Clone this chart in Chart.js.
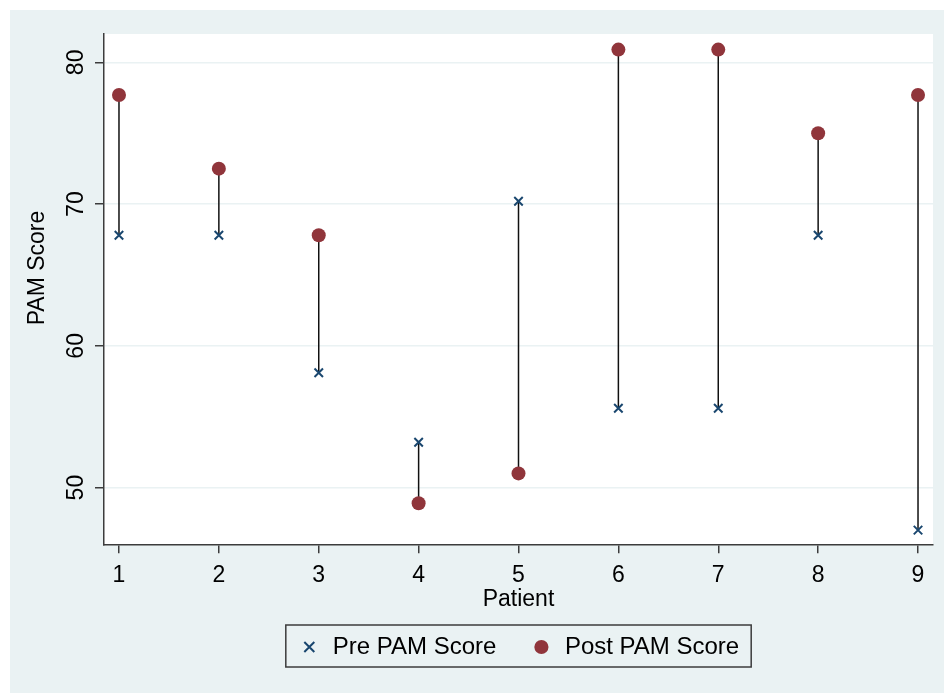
<!DOCTYPE html>
<html>
<head>
<meta charset="utf-8">
<script src="https://cdn.jsdelivr.net/npm/chart.js@4.4.1/dist/chart.umd.min.js"></script>
<style>
  html, body { margin: 0; padding: 0; background: #ffffff; }
  #wrap { width: 944px; height: 693px; position: relative; }
</style>
</head>
<body>
<div id="wrap"><canvas id="c" width="944" height="693"></canvas></div>
<script>
// ---- Data ----
const patients = [1, 2, 3, 4, 5, 6, 7, 8, 9];
const preScores = [67.8, 67.8, 58.1, 53.2, 70.2, 55.6, 55.6, 67.8, 47.0];
const postScores = [77.7, 72.5, 67.8, 48.9, 51.0, 80.9, 80.9, 75.0, 77.7];
const yTickValues = [50, 60, 70, 80];
const xTickValues = [1, 2, 3, 4, 5, 6, 7, 8, 9];
const seriesNames = ['Pre PAM Score', 'Post PAM Score'];
const xTitle = 'Patient';
const yTitle = 'PAM Score';

// ---- Styles ----
const FONT = 'Liberation Sans, Arial, sans-serif';
const FS = 23;
const LFS = 24;
const BG = '#EAF2F3';
const NAVY = '#1A476F';
const MAROON = '#90353B';
const AXIS = '#3c3c3c';

const prePts = patients.map((p, i) => ({ x: p, y: preScores[i] }));
const postPts = patients.map((p, i) => ({ x: p, y: postScores[i] }));
const spikes = [];
patients.forEach((p, i) => {
  spikes.push({ x: p, y: preScores[i] });
  spikes.push({ x: p, y: postScores[i] });
  spikes.push({ x: p, y: null });
});

const bgPlugin = {
  id: 'bg',
  beforeDraw(chart) {
    const ctx = chart.ctx, a = chart.chartArea;
    ctx.save();
    ctx.fillStyle = '#ffffff';
    ctx.fillRect(0, 0, chart.width, chart.height);
    ctx.fillStyle = BG;
    ctx.fillRect(10, 10, chart.width - 10, chart.height - 10);
    ctx.fillStyle = '#ffffff';
    ctx.fillRect(a.left, a.top, a.right - a.left, a.bottom - a.top);
    ctx.restore();
  },
  afterDraw(chart) {
    const ctx = chart.ctx;
    const ys = chart.scales.y;
    ctx.save();
    ctx.fillStyle = '#000';
    ctx.font = FS + 'px ' + FONT;
    ctx.textAlign = 'center';
    ctx.textBaseline = 'middle';
    yTickValues.forEach(v => {
      const py = ys.getPixelForValue(v);
      ctx.save();
      ctx.translate(77, py);
      ctx.rotate(-Math.PI / 2);
      ctx.fillText(String(v), 0, 0);
      ctx.restore();
    });
    ctx.save();
    ctx.translate(38, 268);
    ctx.rotate(-Math.PI / 2);
    ctx.fillText(yTitle, 0, 0);
    ctx.restore();
    // legend frame
    const lg = chart.legend;
    if (lg && lg.legendHitBoxes && lg.legendHitBoxes.length) {
      let l = Infinity, r = -Infinity, t = Infinity, b = -Infinity;
      lg.legendHitBoxes.forEach(h => {
        l = Math.min(l, h.left); r = Math.max(r, h.left + h.width);
        t = Math.min(t, h.top); b = Math.max(b, h.top + h.height);
      });
      ctx.strokeStyle = AXIS;
      ctx.lineWidth = 1.5;
      ctx.strokeRect(l - 12, t - 10, (r - l) + 24, (b - t) + 18);
    }
    ctx.restore();
  }
};

new Chart(document.getElementById('c'), {
  type: 'scatter',
  data: {
    datasets: [
      {
        label: seriesNames[0],
        data: prePts,
        pointStyle: 'crossRot',
        pointRadius: 6,
        borderWidth: 2,
        borderColor: NAVY,
        backgroundColor: NAVY
      },
      {
        label: seriesNames[1],
        data: postPts,
        pointStyle: 'circle',
        pointRadius: 7,
        borderWidth: 0,
        borderColor: MAROON,
        backgroundColor: MAROON
      },
      {
        label: 'spike',
        data: spikes,
        showLine: true,
        spanGaps: false,
        pointRadius: 0,
        borderColor: '#111',
        borderWidth: 1.5
      }
    ]
  },
  options: {
    responsive: false,
    animation: false,
    devicePixelRatio: 1,
    layout: { padding: { left: 0, top: 34, right: 11, bottom: 24 } },
    plugins: {
      tooltip: { enabled: false },
      legend: {
        position: 'bottom',
        fullSize: false,
        labels: {
          filter: item => item.text !== 'spike',
          usePointStyle: true,
          boxWidth: 23,
          boxHeight: 10,
          padding: 33.5,
          color: '#000',
          font: { family: FONT, size: LFS }
        }
      }
    },
    scales: {
      x: {
        type: 'linear',
        min: 0.85,
        max: 9.15,
        afterBuildTicks: s => { s.ticks = xTickValues.map(v => ({ value: v })); },
        grid: { drawOnChartArea: false, drawTicks: true, tickLength: 9, color: AXIS, lineWidth: 1.5 },
        border: { display: true, color: AXIS, width: 1.5 },
        ticks: { color: '#000', font: { family: FONT, size: FS }, padding: 9, maxRotation: 0, autoSkip: false },
        title: { display: true, text: xTitle, color: '#000', font: { family: FONT, size: FS }, padding: { top: -13, bottom: -12 } }
      },
      y: {
        type: 'linear',
        min: 46,
        max: 82,
        afterBuildTicks: s => { s.ticks = yTickValues.map(v => ({ value: v })); },
        afterFit: s => { s.width = 104; },
        grid: { drawOnChartArea: true, drawTicks: true, tickLength: 9, color: BG, tickColor: AXIS, lineWidth: 1.5 },
        border: { display: true, color: AXIS, width: 1.5 },
        ticks: { display: false }
      }
    }
  },
  plugins: [bgPlugin]
});
</script>
</body>
</html>
